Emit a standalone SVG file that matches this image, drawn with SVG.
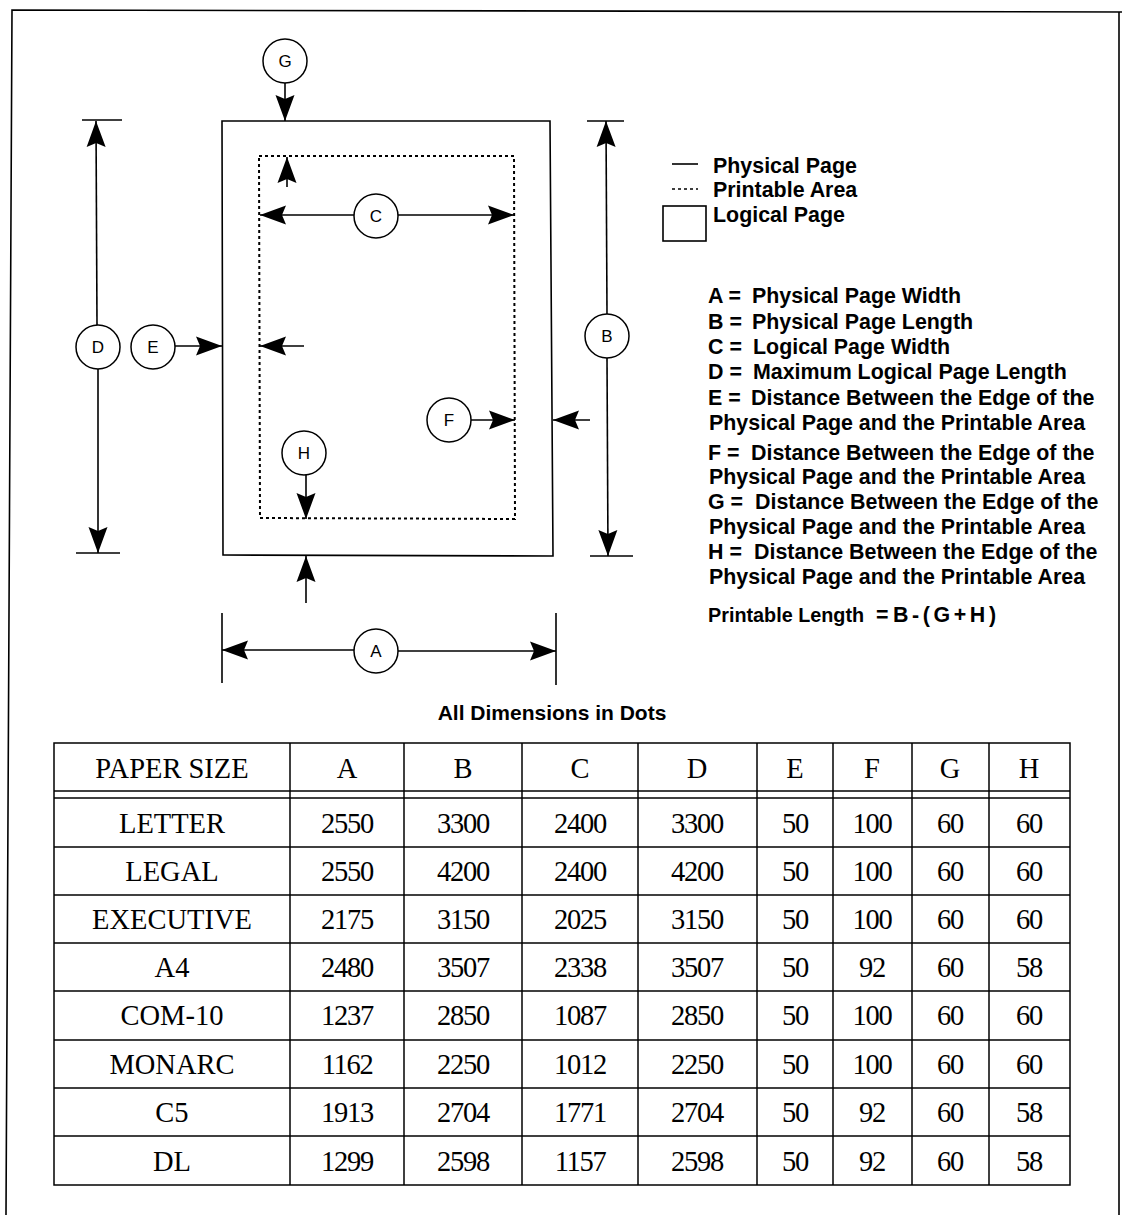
<svg xmlns="http://www.w3.org/2000/svg" width="1122" height="1215" viewBox="0 0 1122 1215">
<style>
.ln{stroke:#000;stroke-width:1.6;fill:none}
.dot{stroke:#000;stroke-width:2;fill:none;stroke-dasharray:3 3}
.circ{stroke:#000;stroke-width:1.5;fill:#fff}
.cl{font-family:"Liberation Sans",Arial,sans-serif;font-size:17px;text-anchor:middle}
.lg{font-family:"Liberation Sans",Arial,sans-serif;font-size:21.4px;font-weight:bold}
.th{font-family:"Liberation Serif","Times New Roman",serif;font-size:28.5px;text-anchor:middle}
.tn{font-family:"Liberation Serif","Times New Roman",serif;font-size:28.5px;text-anchor:middle;letter-spacing:-1.3px}
.tb{stroke:#000;stroke-width:1.5;fill:none}
</style>
<defs>
<marker id="ah" viewBox="-28 -11 29 22" refX="0" refY="0" markerWidth="29" markerHeight="22" markerUnits="userSpaceOnUse" orient="auto">
<path d="M0,0 L-26,-9.5 L-22,0 L-26,9.5 Z" fill="#000"/>
</marker>
</defs>
<rect width="1122" height="1215" fill="#fff"/>
<g id="frame">
<polyline class="ln" points="6,1215 12,10 1122,12"/>
<line class="ln" x1="1119" y1="12" x2="1119" y2="1215"/>
</g>
<g id="physical-page"><polygon class="ln" points="222,121 550,121 553,556 223,555"/></g>
<g id="printable-area"><polygon class="dot" points="259,156 514,156 515,519 260,518"/></g>
<g id="connectors">
<line class="ln" x1="285" y1="83" x2="285" y2="121" marker-end="url(#ah)"/>
<line class="ln" x1="287" y1="187" x2="287" y2="157" marker-end="url(#ah)"/>
<line class="ln" x1="354" y1="215" x2="260" y2="215" marker-end="url(#ah)"/>
<line class="ln" x1="398" y1="215" x2="514" y2="215" marker-end="url(#ah)"/>
<line class="ln" x1="82" y1="120" x2="122" y2="120"/>
<line class="ln" x1="76" y1="553" x2="120" y2="553"/>
<line class="ln" x1="97" y1="325" x2="96" y2="121" marker-end="url(#ah)"/>
<line class="ln" x1="98" y1="369" x2="98" y2="553" marker-end="url(#ah)"/>
<line class="ln" x1="175" y1="346" x2="222" y2="346" marker-end="url(#ah)"/>
<line class="ln" x1="304" y1="346" x2="260" y2="346" marker-end="url(#ah)"/>
<line class="ln" x1="471" y1="420" x2="515" y2="420" marker-end="url(#ah)"/>
<line class="ln" x1="590" y1="420" x2="553" y2="420" marker-end="url(#ah)"/>
<line class="ln" x1="306" y1="475" x2="306" y2="519" marker-end="url(#ah)"/>
<line class="ln" x1="306" y1="603" x2="306" y2="556" marker-end="url(#ah)"/>
<line class="ln" x1="222" y1="613" x2="222" y2="683"/>
<line class="ln" x1="556" y1="613" x2="556" y2="685"/>
<line class="ln" x1="354" y1="650" x2="222" y2="650" marker-end="url(#ah)"/>
<line class="ln" x1="398" y1="651" x2="556" y2="651" marker-end="url(#ah)"/>
<line class="ln" x1="587" y1="121" x2="624" y2="121"/>
<line class="ln" x1="590" y1="556" x2="633" y2="556"/>
<line class="ln" x1="607" y1="314" x2="606" y2="121" marker-end="url(#ah)"/>
<line class="ln" x1="607" y1="358" x2="608" y2="556" marker-end="url(#ah)"/>
</g>
<g id="node-G"><circle class="circ" cx="285" cy="61" r="22"/><text class="cl" x="285" y="67">G</text></g>
<g id="node-C"><circle class="circ" cx="376" cy="216" r="22"/><text class="cl" x="376" y="222">C</text></g>
<g id="node-D"><circle class="circ" cx="98" cy="347" r="22"/><text class="cl" x="98" y="353">D</text></g>
<g id="node-E"><circle class="circ" cx="153" cy="347" r="22"/><text class="cl" x="153" y="353">E</text></g>
<g id="node-B"><circle class="circ" cx="607" cy="336" r="22"/><text class="cl" x="607" y="342">B</text></g>
<g id="node-F"><circle class="circ" cx="449" cy="420" r="22"/><text class="cl" x="449" y="426">F</text></g>
<g id="node-H"><circle class="circ" cx="304" cy="453" r="22"/><text class="cl" x="304" y="459">H</text></g>
<g id="node-A"><circle class="circ" cx="376" cy="651" r="22"/><text class="cl" x="376" y="657">A</text></g>
<g id="legend">
<line class="ln" x1="672" y1="164" x2="698" y2="164"/>
<line x1="672" y1="189" x2="698" y2="189" stroke="#000" stroke-width="1.6" stroke-dasharray="3 3"/>
<rect class="ln" x="663" y="206" width="43" height="35"/>
<text class="lg" x="713" y="173">Physical Page</text>
<text class="lg" x="713" y="197">Printable Area</text>
<text class="lg" x="713" y="222">Logical Page</text>
</g>
<g id="definitions" class="lg">
<text x="708" y="303">A = <tspan x="752">Physical Page Width</tspan></text>
<text x="708" y="329">B = <tspan x="752">Physical Page Length</tspan></text>
<text x="708" y="354">C = <tspan x="753">Logical Page Width</tspan></text>
<text x="708" y="379">D = <tspan x="753">Maximum Logical Page Length</tspan></text>
<text x="708" y="405">E = <tspan x="751">Distance Between the Edge of the</tspan></text>
<text x="709" y="430">Physical Page and the Printable Area</text>
<text x="708" y="460">F = <tspan x="751">Distance Between the Edge of the</tspan></text>
<text x="709" y="484">Physical Page and the Printable Area</text>
<text x="708" y="509">G = <tspan x="755">Distance Between the Edge of the</tspan></text>
<text x="709" y="534">Physical Page and the Printable Area</text>
<text x="708" y="559">H = <tspan x="754">Distance Between the Edge of the</tspan></text>
<text x="709" y="584">Physical Page and the Printable Area</text>
<text x="708" y="622"><tspan style="font-size:19.8px">Printable Length </tspan><tspan x="876">=</tspan><tspan x="893" textLength="103" lengthAdjust="spacing">B-(G+H)</tspan></text>
</g>
<g id="caption"><text x="552" y="720" text-anchor="middle" style="font-family:'Liberation Sans',Arial,sans-serif;font-size:21px;font-weight:bold">All Dimensions in Dots</text></g>
<g id="table">
<rect class="tb" x="54" y="743" width="1016" height="442"/>
<line class="tb" x1="54" y1="791" x2="1070" y2="791"/>
<line class="tb" x1="54" y1="798" x2="1070" y2="798"/>
<line class="tb" x1="54" y1="847" x2="1070" y2="847"/>
<line class="tb" x1="54" y1="895" x2="1070" y2="895"/>
<line class="tb" x1="54" y1="943" x2="1070" y2="943"/>
<line class="tb" x1="54" y1="991" x2="1070" y2="991"/>
<line class="tb" x1="54" y1="1040" x2="1070" y2="1040"/>
<line class="tb" x1="54" y1="1088" x2="1070" y2="1088"/>
<line class="tb" x1="54" y1="1136" x2="1070" y2="1136"/>
<line class="tb" x1="290" y1="743" x2="290" y2="1185"/>
<line class="tb" x1="404" y1="743" x2="404" y2="1185"/>
<line class="tb" x1="522" y1="743" x2="522" y2="1185"/>
<line class="tb" x1="638" y1="743" x2="638" y2="1185"/>
<line class="tb" x1="757" y1="743" x2="757" y2="1185"/>
<line class="tb" x1="833" y1="743" x2="833" y2="1185"/>
<line class="tb" x1="912" y1="743" x2="912" y2="1185"/>
<line class="tb" x1="989" y1="743" x2="989" y2="1185"/>
<g class="th">
<text x="172" y="778">PAPER SIZE</text><text x="347" y="778">A</text><text x="463" y="778">B</text><text x="580" y="778">C</text><text x="697" y="778">D</text><text x="795" y="778">E</text><text x="872" y="778">F</text><text x="950" y="778">G</text><text x="1029" y="778">H</text>
<text x="172" y="833">LETTER</text>
<text x="172" y="881">LEGAL</text>
<text x="172" y="929">EXECUTIVE</text>
<text x="172" y="977">A4</text>
<text x="172" y="1025">COM-10</text>
<text x="172" y="1074">MONARC</text>
<text x="172" y="1122">C5</text>
<text x="172" y="1171">DL</text>
</g>
<g class="tn">
<text x="347" y="833">2550</text><text x="463" y="833">3300</text><text x="580" y="833">2400</text><text x="697" y="833">3300</text><text x="795" y="833">50</text><text x="872" y="833">100</text><text x="950" y="833">60</text><text x="1029" y="833">60</text>
<text x="347" y="881">2550</text><text x="463" y="881">4200</text><text x="580" y="881">2400</text><text x="697" y="881">4200</text><text x="795" y="881">50</text><text x="872" y="881">100</text><text x="950" y="881">60</text><text x="1029" y="881">60</text>
<text x="347" y="929">2175</text><text x="463" y="929">3150</text><text x="580" y="929">2025</text><text x="697" y="929">3150</text><text x="795" y="929">50</text><text x="872" y="929">100</text><text x="950" y="929">60</text><text x="1029" y="929">60</text>
<text x="347" y="977">2480</text><text x="463" y="977">3507</text><text x="580" y="977">2338</text><text x="697" y="977">3507</text><text x="795" y="977">50</text><text x="872" y="977">92</text><text x="950" y="977">60</text><text x="1029" y="977">58</text>
<text x="347" y="1025">1237</text><text x="463" y="1025">2850</text><text x="580" y="1025">1087</text><text x="697" y="1025">2850</text><text x="795" y="1025">50</text><text x="872" y="1025">100</text><text x="950" y="1025">60</text><text x="1029" y="1025">60</text>
<text x="347" y="1074">1162</text><text x="463" y="1074">2250</text><text x="580" y="1074">1012</text><text x="697" y="1074">2250</text><text x="795" y="1074">50</text><text x="872" y="1074">100</text><text x="950" y="1074">60</text><text x="1029" y="1074">60</text>
<text x="347" y="1122">1913</text><text x="463" y="1122">2704</text><text x="580" y="1122">1771</text><text x="697" y="1122">2704</text><text x="795" y="1122">50</text><text x="872" y="1122">92</text><text x="950" y="1122">60</text><text x="1029" y="1122">58</text>
<text x="347" y="1171">1299</text><text x="463" y="1171">2598</text><text x="580" y="1171">1157</text><text x="697" y="1171">2598</text><text x="795" y="1171">50</text><text x="872" y="1171">92</text><text x="950" y="1171">60</text><text x="1029" y="1171">58</text>
</g>
</g>
</svg>
